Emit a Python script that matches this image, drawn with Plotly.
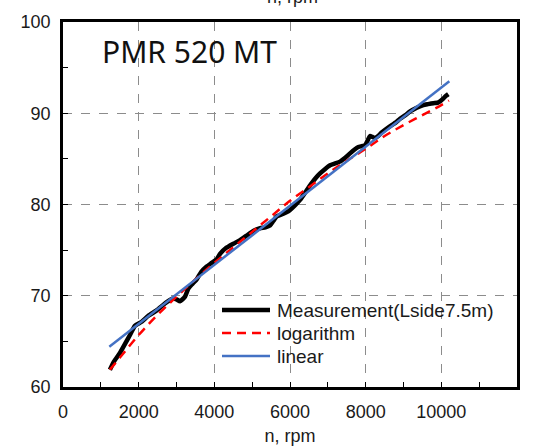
import plotly.graph_objects as go

# ---------------- data ----------------
meas_rpm = [1240, 1350, 1500, 1650, 1770, 1900, 2080, 2256, 2476, 2741, 2917, 3000, 3093, 3225,
            3313, 3420, 3534, 3650, 3798, 3930, 4063, 4150, 4300, 4502, 4680, 4855, 5030, 5208,
            5350, 5472, 5560, 5649, 5824, 5930, 6000, 6130, 6265, 6400, 6550, 6680, 6794, 6930,
            7058, 7190, 7322, 7450, 7587, 7700, 7806, 7900, 7983, 8050, 8115, 8180, 8247, 8330,
            8424, 8550, 8689, 8800, 8908, 9050, 9173, 9350, 9524, 9650, 9789, 9900, 9965, 10050,
            10120, 10185]
meas_db = [61.9, 62.8, 63.7, 64.8, 65.7, 66.7, 67.15, 67.8, 68.4, 69.3, 69.7, 69.6, 69.4, 69.9,
           70.8, 71.3, 71.8, 72.6, 73.2, 73.6, 74.0, 74.6, 75.2, 75.7, 76.1, 76.6, 77.1, 77.4,
           77.5, 77.7, 78.2, 78.7, 79.0, 79.2, 79.4, 79.9, 80.5, 81.3, 82.2, 82.9, 83.4, 83.9,
           84.3, 84.5, 84.7, 85.1, 85.6, 86.0, 86.3, 86.4, 86.5, 87.0, 87.5, 87.4, 87.3, 87.5,
           87.9, 88.3, 88.7, 89.0, 89.4, 89.8, 90.2, 90.6, 90.9, 91.0, 91.1, 91.15, 91.3, 91.6,
           91.9, 92.1]

log_rpm = [1240, 1500, 2000, 2500, 3000, 3500, 4000, 4500, 5000, 5500, 6000, 6500, 7000, 7500,
           8000, 8500, 9000, 9500, 10000, 10200]
log_db = [61.9, 63.2, 65.7, 67.9, 69.9, 71.8, 73.6, 75.3, 77.0, 78.7, 80.4, 81.9, 83.4, 84.8,
          86.1, 87.5, 88.7, 89.8, 90.9, 91.4]

lin_rpm = [1224, 10212]
lin_db = [64.4, 93.5]

series_names = ["Measurement(Lside7.5m)", "logarithm", "linear"]
series_colors = ["black", "#ff0000", "#4472c4"]
series_widths = [4.5, 2.5, 2.5]
series_dash = ["solid", "9px,6px", "solid"]
x_ticks = [0, 2000, 4000, 6000, 8000, 10000, 12000]
y_ticks = [60, 70, 80, 90, 100]
chart_label = "PMR 520 MT"
x_title = "n, rpm"

# ---------------- figure ----------------
W, H = 541, 448
ML, MR, MT, MB = 63, 24, 22, 61
PW, PH = W - ML - MR, H - MT - MB


def px_x(px):
    return (px - ML) / PW


def px_y(py):
    return (H - MB - py) / PH


tick_font = dict(family="Liberation Sans, Arial, sans-serif", size=18, color="#1a1a1a")
legend_font = dict(family="Liberation Sans, Arial, sans-serif", size=19, color="#1a1a1a")

fig = go.Figure()
fig.add_trace(go.Scatter(x=meas_rpm, y=meas_db, mode="lines", name=series_names[0],
                         line=dict(color=series_colors[0], width=series_widths[0],
                                   shape="spline", smoothing=0.5)))
fig.add_trace(go.Scatter(x=log_rpm, y=log_db, mode="lines", name=series_names[1],
                         line=dict(color=series_colors[1], width=series_widths[1],
                                   dash=series_dash[1], shape="spline")))
fig.add_trace(go.Scatter(x=lin_rpm, y=lin_db, mode="lines", name=series_names[2],
                         line=dict(color=series_colors[2], width=series_widths[2])))

axis_common = dict(
    showline=True, mirror=True, linecolor="black", linewidth=2.5,
    showgrid=True, gridcolor="#8c8c8c", gridwidth=1, griddash="dash",
    zeroline=False, ticks="inside", ticklen=5, tickwidth=1.2, tickcolor="black",
    tickfont=tick_font,
)

fig.update_xaxes(range=[0, 12000], tickvals=x_ticks, ticktext=[str(v) for v in x_ticks],
                 minor=dict(dtick=1000, tick0=0, ticks="inside", ticklen=5, tickcolor="black",
                            showgrid=False),
                 title=dict(text=x_title, font=tick_font, standoff=9),
                 ticklabelstandoff=7,
                 **axis_common)
fig.update_yaxes(range=[60, 100], tickvals=y_ticks, ticktext=[str(v) for v in y_ticks],
                 minor=dict(dtick=5, tick0=60, ticks="inside", ticklen=5, tickcolor="black",
                            showgrid=False),
                 ticklabelstandoff=6,
                 **axis_common)

# legend drawn as keyed samples + labels (placed in paper coordinates)
legend_rows_y = [310, 333, 356]
shapes = []
annotations = []
for i, name in enumerate(series_names):
    yy = px_y(legend_rows_y[i])
    shapes.append(dict(type="line", xref="paper", yref="paper", x0=px_x(222), x1=px_x(270),
                       y0=yy, y1=yy,
                       line=dict(color=series_colors[i], width=series_widths[i],
                                 dash=series_dash[i]), layer="above"))
    annotations.append(dict(text=name, xref="paper", yref="paper", x=px_x(275), y=yy,
                            xanchor="left", yanchor="middle", showarrow=False, font=legend_font))

annotations.append(dict(text=chart_label, xref="paper", yref="paper", x=px_x(100), y=px_y(51),
                        xanchor="left", yanchor="middle", showarrow=False,
                        font=dict(family="Noto Sans, sans-serif", size=30, color="#111111")))
annotations.append(dict(text=x_title, xref="paper", yref="paper", x=px_x(292), y=px_y(9),
                        xanchor="center", yanchor="bottom", showarrow=False, font=tick_font))

fig.update_layout(
    width=W, height=H,
    margin=dict(l=ML, r=MR, t=MT, b=MB, autoexpand=False),
    paper_bgcolor="white", plot_bgcolor="white",
    showlegend=False,
    annotations=annotations,
    shapes=shapes,
)

fig.write_html("out.html", config={"displayModeBar": False},
               post_script="document.body.style.margin='0';")
